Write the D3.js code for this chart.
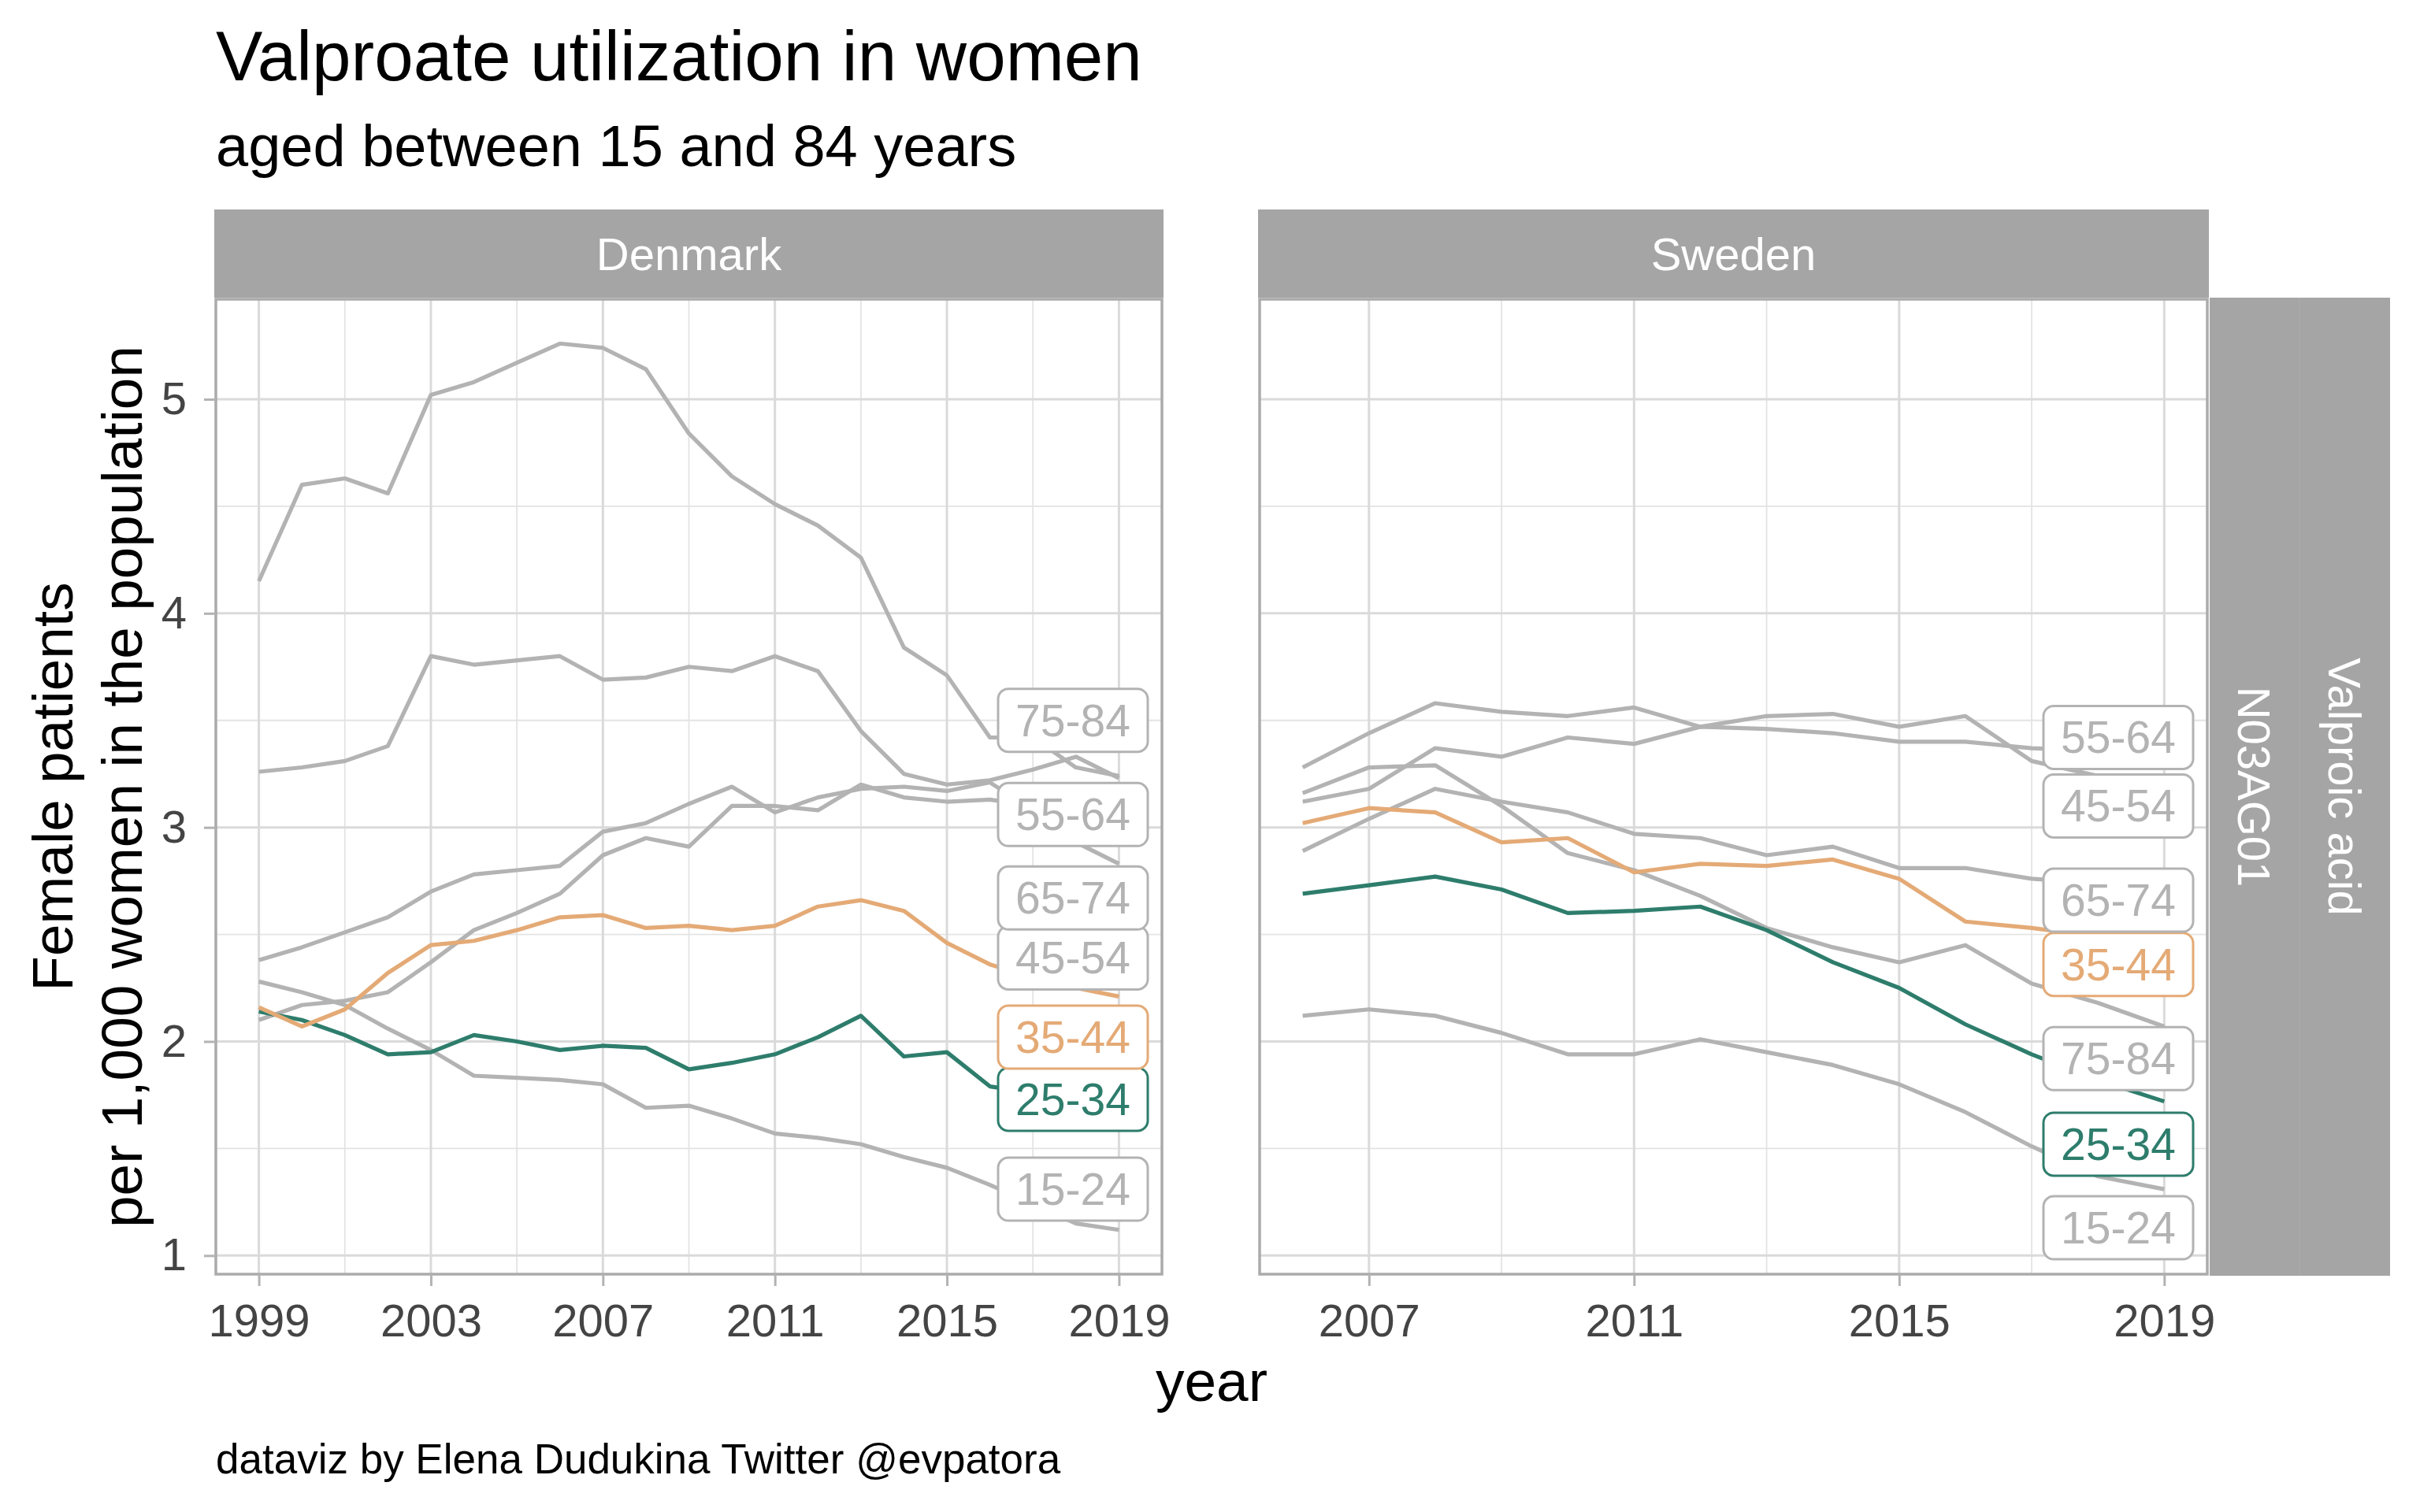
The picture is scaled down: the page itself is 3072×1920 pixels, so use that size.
<!DOCTYPE html>
<html>
<head>
<meta charset="utf-8">
<title>Valproate utilization in women</title>
<script src="https://d3js.org/d3.v7.min.js"></script>
<style>
  body { margin: 0; background: #fff; }
  svg { display: block; font-family: "Liberation Sans", Arial, Helvetica, sans-serif; }
  .tick text { fill: #444; }
  .tick line { stroke: #b3b3b3; stroke-width: 3; }
</style>
</head>
<body>
<script>
// age groups, in legend order
const ageGroups = ["15-24", "25-34", "35-44", "45-54", "55-64", "65-74", "75-84"];

// Denmark, 1999-2019
const yearsDK = [1999, 2000, 2001, 2002, 2003, 2004, 2005, 2006, 2007, 2008, 2009,
                 2010, 2011, 2012, 2013, 2014, 2015, 2016, 2017, 2018, 2019];
const dk15_24 = [2.28, 2.23, 2.17, 2.06, 1.96, 1.84, 1.83, 1.82, 1.80, 1.69, 1.70, 1.64, 1.57, 1.55, 1.52, 1.46, 1.41, 1.33, 1.24, 1.15, 1.12];
const dk25_34 = [2.14, 2.10, 2.03, 1.94, 1.95, 2.03, 2.00, 1.96, 1.98, 1.97, 1.87, 1.90, 1.94, 2.02, 2.12, 1.93, 1.95, 1.79, 1.76, 1.73, 1.71];
const dk35_44 = [2.16, 2.07, 2.15, 2.32, 2.45, 2.47, 2.52, 2.58, 2.59, 2.53, 2.54, 2.52, 2.54, 2.63, 2.66, 2.61, 2.46, 2.36, 2.30, 2.25, 2.21];
const dk45_54 = [3.26, 3.28, 3.31, 3.38, 3.80, 3.76, 3.78, 3.80, 3.69, 3.70, 3.75, 3.73, 3.80, 3.73, 3.45, 3.25, 3.20, 3.22, 3.27, 3.33, 3.23];
const dk55_64 = [2.10, 2.17, 2.19, 2.23, 2.37, 2.52, 2.60, 2.69, 2.87, 2.95, 2.91, 3.10, 3.10, 3.08, 3.20, 3.14, 3.12, 3.13, 3.10, 3.08, 3.07];
const dk65_74 = [2.38, 2.44, 2.51, 2.58, 2.70, 2.78, 2.80, 2.82, 2.98, 3.02, 3.11, 3.19, 3.07, 3.14, 3.18, 3.19, 3.17, 3.21, 3.08, 2.93, 2.83];
const dk75_84 = [4.15, 4.60, 4.63, 4.56, 5.02, 5.08, 5.17, 5.26, 5.24, 5.14, 4.84, 4.64, 4.51, 4.41, 4.26, 3.84, 3.71, 3.42, 3.42, 3.28, 3.24];

// Sweden, 2006-2019
const yearsSE = [2006, 2007, 2008, 2009, 2010, 2011, 2012, 2013, 2014, 2015, 2016, 2017, 2018, 2019];
const se15_24 = [2.12, 2.15, 2.12, 2.04, 1.94, 1.94, 2.01, 1.95, 1.89, 1.80, 1.67, 1.51, 1.37, 1.31];
const se25_34 = [2.69, 2.73, 2.77, 2.71, 2.60, 2.61, 2.63, 2.52, 2.37, 2.25, 2.08, 1.94, 1.82, 1.72];
const se35_44 = [3.02, 3.09, 3.07, 2.93, 2.95, 2.79, 2.83, 2.82, 2.85, 2.76, 2.56, 2.53, 2.49, 2.45];
const se45_54 = [3.28, 3.44, 3.58, 3.54, 3.52, 3.56, 3.47, 3.52, 3.53, 3.47, 3.52, 3.31, 3.24, 3.20];
const se55_64 = [3.12, 3.18, 3.37, 3.33, 3.42, 3.39, 3.47, 3.46, 3.44, 3.40, 3.40, 3.37, 3.36, 3.35];
const se65_74 = [2.89, 3.04, 3.18, 3.12, 3.07, 2.97, 2.95, 2.87, 2.91, 2.81, 2.81, 2.76, 2.74, 2.72];
const se75_84 = [3.16, 3.28, 3.29, 3.10, 2.88, 2.80, 2.68, 2.53, 2.44, 2.37, 2.45, 2.27, 2.18, 2.07];

// where the repelled labels sit (value axis), same order as ageGroups
const labelValDK = [1.31, 1.73, 2.02, 2.39, 3.06, 2.67, 3.50];
const labelValSE = [1.13, 1.52, 2.36, 3.10, 3.42, 2.66, 1.92];

// tick labels
const xTicksDK = [1999, 2003, 2007, 2011, 2015, 2019];
const xTicksSE = [2007, 2011, 2015, 2019];
const yTicks = [1, 2, 3, 4, 5];

const highlight = { "25-34": "#2e7d6c", "35-44": "#e4aa76" };
const greyLine = "#b3b3b3";
const colorOf = g => highlight[g] || greyLine;

const W = 3072, H = 1920;
const panelTop = 380, panelBottom = 1618;
const panels = [
  { name: "Denmark", x0: 274, x1: 1475, years: yearsDK, ticks: xTicksDK,
    series: [dk15_24, dk25_34, dk35_44, dk45_54, dk55_64, dk65_74, dk75_84], labels: labelValDK },
  { name: "Sweden", x0: 1599, x1: 2802, years: yearsSE, ticks: xTicksSE,
    series: [se15_24, se25_34, se35_44, se45_54, se55_64, se65_74, se75_84], labels: labelValSE }
];

const svg = d3.select("body").append("svg")
  .attr("width", W).attr("height", H);
svg.append("rect").attr("width", W).attr("height", H).attr("fill", "#fff");

// shared y scale, ggplot style 5% expansion
const allVals = panels.flatMap(p => p.series.flat());
const yExt = d3.extent(allVals);
const yPad = (yExt[1] - yExt[0]) * 0.05;
const y = d3.scaleLinear().domain([yExt[0] - yPad, yExt[1] + yPad]).range([panelBottom, panelTop]);
const yMinor = yTicks.slice(1).map((t, i) => (t + yTicks[i]) / 2);

panels.forEach((p, pi) => {
  const ext = d3.extent(p.years);
  const pad = (ext[1] - ext[0]) * 0.05;
  const x = d3.scaleLinear().domain([ext[0] - pad, ext[1] + pad]).range([p.x0, p.x1]);
  const xMinor = p.ticks.slice(1).map((t, i) => (t + p.ticks[i]) / 2);
  const g = svg.append("g");

  // grid
  g.selectAll(".ymin").data(yMinor).join("line")
    .attr("x1", p.x0).attr("x2", p.x1).attr("y1", d => y(d)).attr("y2", d => y(d))
    .attr("stroke", "#e3e3e3").attr("stroke-width", 1.8);
  g.selectAll(".xmin").data(xMinor).join("line")
    .attr("y1", panelTop).attr("y2", panelBottom).attr("x1", d => x(d)).attr("x2", d => x(d))
    .attr("stroke", "#e3e3e3").attr("stroke-width", 1.8);
  g.selectAll(".ymaj").data(yTicks).join("line")
    .attr("x1", p.x0).attr("x2", p.x1).attr("y1", d => y(d)).attr("y2", d => y(d))
    .attr("stroke", "#dadada").attr("stroke-width", 3);
  g.selectAll(".xmaj").data(p.ticks).join("line")
    .attr("y1", panelTop).attr("y2", panelBottom).attr("x1", d => x(d)).attr("x2", d => x(d))
    .attr("stroke", "#dadada").attr("stroke-width", 3);

  // lines: grey ones first, highlighted on top
  const line = d3.line().x((d, i) => x(p.years[i])).y(d => y(d));
  const order = ageGroups.map((a, i) => i).sort((a, b) =>
    (highlight[ageGroups[a]] ? 1 : 0) - (highlight[ageGroups[b]] ? 1 : 0));
  order.forEach(i => {
    g.append("path").datum(p.series[i])
      .attr("d", line)
      .attr("fill", "none")
      .attr("stroke", colorOf(ageGroups[i]))
      .attr("stroke-width", 5.2)
      .attr("stroke-linejoin", "round");
  });

  // labels pinned to the right edge of the panel
  const bw = 190, bh = 80;
  const cx = p.x1 - 18 - bw / 2;
  ageGroups.forEach((a, i) => {
    const cy = y(p.labels[i]);
    g.append("rect")
      .attr("x", cx - bw / 2).attr("y", cy - bh / 2)
      .attr("width", bw).attr("height", bh).attr("rx", 13)
      .attr("fill", "#fff").attr("stroke", colorOf(a)).attr("stroke-width", 3);
    g.append("text")
      .attr("x", cx).attr("y", cy + 20)
      .attr("text-anchor", "middle")
      .attr("font-size", 57)
      .attr("fill", colorOf(a))
      .text(a);
  });

  // border
  g.append("rect")
    .attr("x", p.x0).attr("y", panelTop).attr("width", p.x1 - p.x0).attr("height", panelBottom - panelTop)
    .attr("fill", "none").attr("stroke", "#ababab").attr("stroke-width", 3.5);

  // strip
  g.append("rect")
    .attr("x", p.x0 - 2).attr("y", 266).attr("width", p.x1 - p.x0 + 4).attr("height", 112)
    .attr("fill", "#a5a5a5");
  g.append("text")
    .attr("x", (p.x0 + p.x1) / 2).attr("y", 343)
    .attr("text-anchor", "middle").attr("font-size", 58).attr("fill", "#fff")
    .text(p.name);

  // x axis
  const xa = g.append("g").attr("transform", `translate(0,${panelBottom})`)
    .call(d3.axisBottom(x).tickValues(p.ticks).tickFormat(d3.format("d"))
      .tickSize(15).tickPadding(23));
  xa.select(".domain").remove();
  xa.selectAll("text").attr("font-size", 58);
  xa.attr("font-family", null).attr("font-size", null);

  if (pi === 0) {
    const ya = g.append("g").attr("transform", `translate(${p.x0},0)`)
      .call(d3.axisLeft(y).tickValues(yTicks).tickFormat(d3.format("d"))
        .tickSize(15).tickPadding(22));
    ya.select(".domain").remove();
    ya.selectAll("text").attr("font-size", 58);
    ya.attr("font-family", null).attr("font-size", null);
  }
});

// right-hand strips
const rx0 = 2805, rmid = 2919, rx1 = 3034;
svg.append("rect").attr("x", rx0).attr("y", panelTop - 2).attr("width", rmid - rx0)
  .attr("height", panelBottom - panelTop + 4).attr("fill", "#a5a5a5");
svg.append("rect").attr("x", rmid).attr("y", panelTop - 2).attr("width", rx1 - rmid)
  .attr("height", panelBottom - panelTop + 4).attr("fill", "#a5a5a5");
svg.append("line").attr("x1", rmid).attr("x2", rmid).attr("y1", panelTop - 2).attr("y2", panelBottom + 2)
  .attr("stroke", "#ababab").attr("stroke-width", 1.5);
[["N03AG01", (rx0 + rmid) / 2], ["Valproic acid", (rmid + rx1) / 2]].forEach(([t, cx]) => {
  svg.append("text")
    .attr("transform", `translate(${cx - 21},${(panelTop + panelBottom) / 2}) rotate(90)`)
    .attr("text-anchor", "middle").attr("font-size", 58).attr("fill", "#fff")
    .text(t);
});

// titles
svg.append("text").attr("x", 274).attr("y", 102)
  .attr("font-size", 89).attr("fill", "#000").text("Valproate utilization in women");
svg.append("text").attr("x", 274).attr("y", 211)
  .attr("font-size", 74).attr("fill", "#000").text("aged between 15 and 84 years");

// axis titles
svg.append("text").attr("x", (274 + 2802) / 2).attr("y", 1779)
  .attr("text-anchor", "middle").attr("font-size", 73).attr("fill", "#000").text("year");
const yt = svg.append("text")
  .attr("transform", `translate(0,${(panelTop + panelBottom) / 2}) rotate(-90)`)
  .attr("text-anchor", "middle").attr("font-size", 73).attr("fill", "#000");
yt.append("tspan").attr("x", 0).attr("y", 92).text("Female patients");
yt.append("tspan").attr("x", 0).attr("y", 180).text("per 1,000 women in the population");

// caption
svg.append("text").attr("x", 274).attr("y", 1871)
  .attr("font-size", 53).attr("fill", "#000").text("dataviz by Elena Dudukina Twitter @evpatora");
</script>
</body>
</html>
